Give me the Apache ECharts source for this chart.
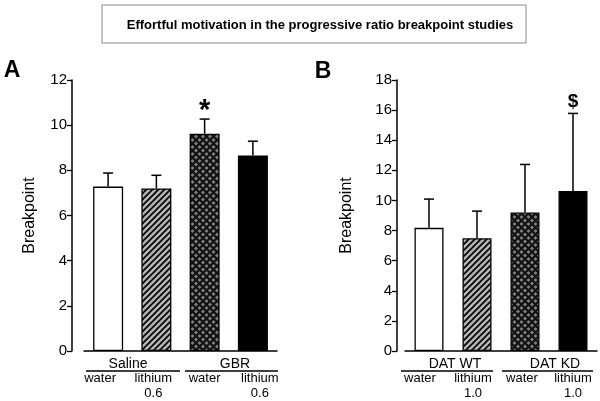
<!DOCTYPE html>
<html><head><meta charset="utf-8">
<script src="https://cdn.jsdelivr.net/npm/echarts@6/dist/echarts.min.js"></script>
<style>html,body{margin:0;padding:0;background:#fff}#c{width:600px;height:401px}</style>
</head><body><div id="c"></div>
<script>
// ---- data ----
var titleText = 'Effortful motivation in the progressive ratio breakpoint studies';
var categoriesA = ['water', 'lithium\n0.6', 'water', 'lithium\n0.6'];
var categoriesB = ['water', 'lithium\n1.0', 'water', 'lithium\n1.0'];
var groupsA = ['Saline', 'GBR'];
var groupsB = ['DAT WT', 'DAT KD'];
var meanA = [7.28, 7.2, 9.62, 8.66];
var errA  = [0.6, 0.58, 0.65, 0.63];
var meanB = [8.18, 7.49, 9.2, 10.62];
var errB  = [1.91, 1.8, 3.19, 5.16];
var markA = ['', '', '*', ''];
var markB = ['', '', '', '$'];
var yTicksA = {min: 0, max: 12, interval: 2};
var yTicksB = {min: 0, max: 18, interval: 2};

// ---- patterns ----
function stripePattern() {
  var c = document.createElement('canvas'); c.width = 6; c.height = 6;
  var g = c.getContext('2d');
  g.fillStyle = '#b3b3b3'; g.fillRect(0, 0, 6, 6);
  g.strokeStyle = '#000'; g.lineWidth = 1.6;
  g.beginPath();
  g.moveTo(-1, 7); g.lineTo(7, -1);
  g.moveTo(-4, 4); g.lineTo(4, -4);
  g.moveTo(2, 10); g.lineTo(10, 2);
  g.stroke();
  return c;
}
function crossPattern() {
  var s = 7;
  var c = document.createElement('canvas'); c.width = s; c.height = s;
  var g = c.getContext('2d');
  g.fillStyle = '#808080'; g.fillRect(0, 0, s, s);
  g.strokeStyle = '#111'; g.lineWidth = 2.2;
  g.beginPath();
  g.moveTo(-1, -1); g.lineTo(s + 1, s + 1);
  g.moveTo(s + 1, -1); g.lineTo(-1, s + 1);
  g.stroke();
  return c;
}
var barStyles = [
  {color: '#ffffff', borderColor: '#000', borderWidth: 1.3},
  {color: {image: stripePattern(), repeat: 'repeat'}, borderColor: '#000', borderWidth: 1.3},
  {color: {image: crossPattern(), repeat: 'repeat'}, borderColor: '#000', borderWidth: 1.3},
  {color: '#000000', borderColor: '#000', borderWidth: 1.3}
];

function barData(means) {
  return means.map(function (v, i) { return {value: v, itemStyle: barStyles[i]}; });
}
function errData(means, errs) {
  return means.map(function (v, i) { return [i, v, v + errs[i]]; });
}
var seriesMarks = {1: markA, 3: markB};
function renderErr(params, api) {
  var x = api.value(0);
  var p0 = api.coord([x, api.value(1)]);
  var p1 = api.coord([x, api.value(2)]);
  var mark = seriesMarks[params.seriesIndex][params.dataIndex];
  var ch = [
    {type: 'line', shape: {x1: p0[0], y1: p0[1], x2: p1[0], y2: p1[1]}, style: {stroke: '#000', lineWidth: 1.5}},
    {type: 'line', shape: {x1: p0[0] - 5, y1: p1[1], x2: p0[0] + 5, y2: p1[1]}, style: {stroke: '#000', lineWidth: 1.5}}
  ];
  if (mark) {
    ch.push({type: 'text', x: p0[0], y: p1[1] - (mark === '*' ? 8 : 12),
      style: {text: mark, fill: '#000', font: 'bold ' + (mark === '*' ? 29 : 19) + 'px "Liberation Sans", Arial, sans-serif', align: 'center', verticalAlign: 'middle'}});
  }
  return {type: 'group', children: ch};
}

var FONT = '"Liberation Sans", Arial, sans-serif';
// horizontal nudges of the category labels (as in the original figure)
var labelShiftA = [-8, -3, 0, 7];
var labelShiftB = [-9, -4, -3, 0];
function richFor(shifts) {
  var r = {};
  shifts.forEach(function (s, i) {
    r['s' + i] = {fontSize: 13, fontFamily: FONT, color: '#000', lineHeight: 15,
      padding: s < 0 ? [0, -2 * s, 0, 0] : [0, 0, 0, 2 * s]};
  });
  return r;
}
function xAxisCfg(grid, cats, shifts) {
  return {
    type: 'category', gridIndex: grid, data: cats,
    axisLine: {lineStyle: {color: '#000', width: 1.5}},
    axisTick: {alignWithLabel: true, length: 6, lineStyle: {color: '#000', width: 1.3}},
    axisLabel: {color: '#000', fontSize: 13, fontFamily: FONT, margin: 20, lineHeight: 15, interval: 0,
      formatter: function (v, i) {
        return v.split('\n').map(function (l) { return '{s' + i + '|' + l + '}'; }).join('\n');
      },
      rich: richFor(shifts)}
  };
}
function yAxisCfg(grid, t, offset, gap) {
  return {
    type: 'value', gridIndex: grid, min: t.min, max: t.max, interval: t.interval, offset: offset,
    name: 'Breakpoint', nameLocation: 'middle', nameRotate: 90, nameGap: gap,
    nameTextStyle: {color: '#000', fontSize: 16, fontFamily: FONT},
    axisLine: {show: true, lineStyle: {color: '#000', width: 1.5}},
    axisTick: {show: true, length: 5, lineStyle: {color: '#000', width: 1.3}},
    axisLabel: {color: '#000', fontSize: 15, fontFamily: FONT, margin: 5},
    splitLine: {show: false}
  };
}

// group labels (text + underline), positioned under each pair of bars
var groupPos = [
  {x: 128, x1: 86, x2: 180}, {x: 235, x1: 185, x2: 278},
  {x: 455, x1: 401, x2: 493}, {x: 555, x1: 502, x2: 593}
];
var groupNames = groupsA.concat(groupsB);
var graphics = [
  {type: 'rect', shape: {x: 102, y: 5, width: 424, height: 38}, style: {fill: '#fff', stroke: '#888', lineWidth: 1}},
  {type: 'text', x: 320, y: 25, style: {text: titleText, font: 'bold 13px ' + FONT, fill: '#000', align: 'center', verticalAlign: 'middle'}},
  {type: 'text', x: 12, y: 71, style: {text: 'A', font: 'bold 23px ' + FONT, fill: '#000', align: 'center', verticalAlign: 'middle'}},
  {type: 'text', x: 323, y: 72, style: {text: 'B', font: 'bold 23px ' + FONT, fill: '#000', align: 'center', verticalAlign: 'middle'}}
];
groupNames.forEach(function (n, i) {
  var g = groupPos[i];
  graphics.push({type: 'text', x: g.x, y: 364, style: {text: n, font: '14px ' + FONT, fill: '#000', align: 'center', verticalAlign: 'middle'}});
  graphics.push({type: 'line', shape: {x1: g.x1, y1: 371, x2: g.x2, y2: 371}, style: {stroke: '#000', lineWidth: 1.3}});
});

var chart = echarts.init(document.getElementById('c'), null, {renderer: 'canvas'});
chart.setOption({
  animation: false,
  backgroundColor: '#fff',
  grid: [
    {left: 84, top: 80, width: 193, height: 271},
    {left: 405, top: 80, width: 192, height: 271}
  ],
  xAxis: [xAxisCfg(0, categoriesA, labelShiftA), xAxisCfg(1, categoriesB, labelShiftB)],
  yAxis: [yAxisCfg(0, yTicksA, 12, 34), yAxisCfg(1, yTicksB, 8, 42)],
  series: [
    {type: 'bar', xAxisIndex: 0, yAxisIndex: 0, data: barData(meanA), barWidth: 30},
    {type: 'custom', xAxisIndex: 0, yAxisIndex: 0, data: errData(meanA, errA), renderItem: renderErr, z: 3},
    {type: 'bar', xAxisIndex: 1, yAxisIndex: 1, data: barData(meanB), barWidth: 29},
    {type: 'custom', xAxisIndex: 1, yAxisIndex: 1, data: errData(meanB, errB), renderItem: renderErr, z: 3}
  ],
  graphic: graphics
});
</script></body></html>
